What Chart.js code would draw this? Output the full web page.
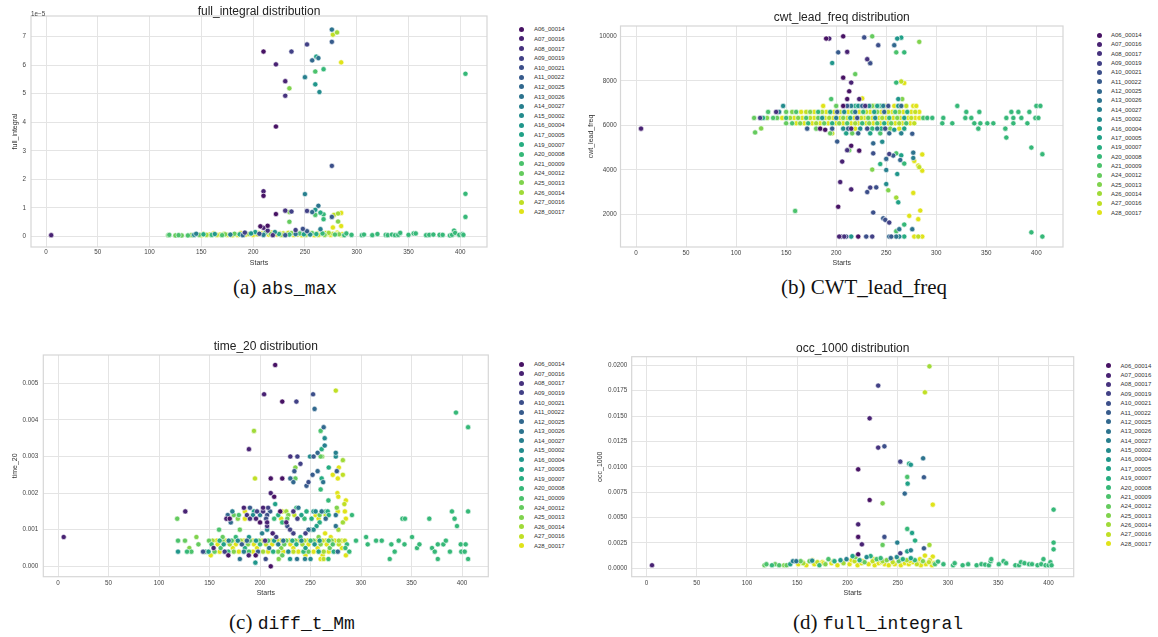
<!DOCTYPE html>
<html><head><meta charset="utf-8">
<script src="https://cdn.jsdelivr.net/npm/chart.js@4/dist/chart.umd.min.js"></script>
<style>
body{margin:0;width:1158px;height:637px;position:relative;background:#fff;overflow:hidden;font-family:"Liberation Sans",Arial,sans-serif}
canvas{position:absolute}
.lg{position:absolute;font-size:6px;color:#333;white-space:nowrap;line-height:6px}
.dot{position:absolute;width:5px;height:5px;border-radius:50%}
.cap{position:absolute;transform:translate(-50%,-50%);white-space:nowrap;font-family:"Liberation Serif","DejaVu Serif",serif;font-size:21px;color:#111}
.cap .tt{font-family:"Liberation Mono","DejaVu Sans Mono",monospace;font-size:18px}
</style></head><body>
<canvas id="cA" width="500" height="272" style="left:0;top:0"></canvas>
<canvas id="cB" width="500" height="272" style="left:580px;top:0"></canvas>
<canvas id="cC" width="500" height="272" style="left:0;top:335px"></canvas>
<canvas id="cD" width="520" height="272" style="left:580px;top:335px"></canvas>
<div class="cap" style="left:285px;top:287px">(a) <span class="tt">abs_max</span></div>
<div class="cap" style="left:864px;top:287px">(b) CWT_lead_freq</div>
<div class="cap" style="left:292px;top:622px">(c) <span class="tt">diff_t_Mm</span></div>
<div class="cap" style="left:878px;top:622px">(d) <span class="tt">full_integral</span></div>
<script>
const groups = ['A06_00014','A07_00016','A08_00017','A09_00019','A10_00021','A11_00022','A12_00025','A13_00026','A14_00027','A15_00002','A16_00004','A17_00005','A19_00007','A20_00008','A21_00009','A24_00012','A25_00013','A26_00014','A27_00016','A28_00017'];
const palette = ['#471264','#482273','#46327e','#424186','#3c4f8a','#375b8c','#31688e','#2c738e','#277f8e','#238b8d','#20968b','#20a187','#27ad81','#36b878','#4bc26c','#65cb5e','#80d34d','#a0da38','#c0df25','#e0e319'];

const xTicks = [0,50,100,150,200,250,300,350,400];
const xTickLabels = ['0','50','100','150','200','250','300','350','400'];
const fiTicks = [0,1,2,3,4,5,6,7];            // units of 1e-5
const fiTickLabels = ['0','1','2','3','4','5','6','7'];
const cwtTicks = [2000,4000,6000,8000,10000];
const cwtTickLabels = ['2000','4000','6000','8000','10000'];
const t20Ticks = [0,0.001,0.002,0.003,0.004,0.005];
const t20TickLabels = ['0.000','0.001','0.002','0.003','0.004','0.005'];
const occTicks = [0,0.0025,0.005,0.0075,0.01,0.0125,0.015,0.0175,0.02];
const occTickLabels = ['0.0000','0.0025','0.0050','0.0075','0.0100','0.0125','0.0150','0.0175','0.0200'];

// [Starts, full_integral (x1e-5), group index]
const fullIntegralPts = [
 [5,0.04,1],
 [210,6.48,0],[222,6.03,1],[231,5.44,1],[231,4.93,2],[237,6.48,3],[252,6.73,3],[222,3.85,0],
 [276,7.25,7],[276,6.82,5],[277,7.07,18],[281,7.15,17],[285,6.10,19],[250,5.58,8],[257,6.17,6],
 [261,6.30,11],[263,6.25,7],[260,5.78,14],[268,5.86,13],[260,5.33,10],[264,5.06,9],[235,5.19,16],
 [405,5.70,13],[276,2.47,4],[210,1.58,1],[210,1.42,0],[250,1.48,8],[405,1.49,13],[405,0.68,13],
 [222,0.78,0],[231,0.90,2],[237,0.87,3],[235,0.85,16],[252,0.89,3],[257,0.85,6],[260,0.93,10],
 [263,1.07,7],[265,0.83,12],[268,0.77,13],[260,0.75,14],[268,0.60,13],[276,0.68,5],[278,0.75,18],
 [282,0.80,17],[285,0.82,19],[282,0.52,16],[235,0.51,15],[277,0.31,19],[285,0.36,19],
 [207,0.35,0],[210,0.30,1],[214,0.37,0],[214,0.20,2],[241,0.22,3],[248,0.26,4],[265,0.25,8],[252,0.18,5],
 [118,0.04,15],[119,0.05,14],[125,0.03,15],[128,0.04,14],[131,0.03,15],[137,0.03,14],[140,0.04,16],[143,0.05,9],[145,0.09,8],[148,0.05,15],
 [150,0.04,19],[152,0.07,12],[155,0.05,17],[158,0.06,19],[160,0.05,13],[163,0.08,10],[165,0.05,18],[168,0.06,19],[170,0.04,14],[173,0.07,16],
 [175,0.05,19],[178,0.06,8],[180,0.04,18],[182,0.09,15],[185,0.05,19],[187,0.07,12],[190,0.04,6],[192,0.13,3],[193,0.06,19],[196,0.08,17],
 [198,0.10,10],[200,0.05,19],[202,0.15,11],[204,0.07,18],[206,0.09,4],[208,0.10,19],[210,0.05,8],[212,0.13,14],[215,0.06,19],[217,0.08,16],
 [219,0.04,2],[221,0.15,9],[223,0.06,19],[225,0.08,12],[227,0.05,17],[229,0.10,18],[231,0.04,5],[233,0.09,19],[235,0.06,13],[237,0.11,16],
 [239,0.05,19],[241,0.08,7],[243,0.06,18],[245,0.10,14],[247,0.04,19],[249,0.07,11],[251,0.05,17],[253,0.09,19],[255,0.06,9],[257,0.11,15],
 [259,0.04,19],[261,0.08,12],[263,0.05,18],[265,0.07,19],[267,0.10,13],[269,0.05,16],[271,0.08,19],[273,0.12,17],[275,0.05,19],[277,0.09,18],
 [279,0.06,14],[281,0.13,19],[283,0.07,16],[285,0.05,19],[288,0.04,13],[290,0.10,13],
 [152,0.09,19],[162,0.10,19],[172,0.09,18],[188,0.11,19],[205,0.12,19],[218,0.13,19],[226,0.10,19],[234,0.12,18],[244,0.11,19],[254,0.12,19],
 [262,0.10,19],[270,0.11,18],[280,0.09,19],[286,0.08,19],
 [295,0.05,13],[305,0.04,13],[307,0.06,13],[315,0.04,13],[320,0.08,13],[328,0.05,13],[330,0.04,13],[334,0.06,13],[337,0.04,13],[340,0.05,13],
 [342,0.12,13],[350,0.05,13],[355,0.10,13],[357,0.10,13],[367,0.04,13],[370,0.05,13],[374,0.06,13],[380,0.05,13],[383,0.05,13],[390,0.03,13],
 [392,0.05,13],[394,0.20,13],[395,0.12,13],[399,0.05,13],[402,0.08,13],[403,0.05,13]
];

// [Starts, cwt_lead_freq, group index]
const cwtLeadFreqPts = [
 [5,5850,1],
 [190,9900,0],[193,9900,1],[207,10000,0],[228,9950,4],[236,10000,15],[242,9600,4],[258,9600,6],[261,9900,10],[265,9940,11],[283,9750,16],
 [202,9280,5],[211,9300,1],[196,8800,10],[231,8970,2],[234,8790,4],[234,8800,15],[260,9280,14],[268,9280,13],
 [219,8300,15],[207,8140,0],[215,7920,1],[260,7920,13],[265,7970,18],[268,7900,19],[213,7530,0],
 [211,7180,0],[223,7180,1],[226,7210,19],[195,7180,14],[266,7180,16],[262,7180,10],
 [119,5680,15],[125,5860,16],
 [201,5270,5],[215,5080,0],[213,4880,15],[211,4880,2],[223,4860,0],[206,4370,1],
 [237,4740,4],[253,4710,3],[257,4640,5],[260,4740,14],[265,4650,11],[264,4440,6],[268,4280,13],[277,4770,7],[277,4530,8],[278,4400,19],
 [282,4190,19],[283,4120,18],[286,3960,19],[286,4690,19],
 [250,4490,6],[250,3990,8],[244,4260,12],[246,5260,9],[237,5190,6],[261,3810,10],[236,4010,16],
 [204,3450,1],[215,3120,1],[231,3000,4],[234,3200,3],[240,3210,4],[250,3360,9],[252,3080,16],[277,2960,19],
 [202,2340,0],[237,2080,4],[247,1820,5],[249,1750,4],[253,1630,3],[260,2750,17],[262,2540,11],[268,1540,13],[273,1930,19],[282,1780,19],
 [284,2170,19],[263,1330,7],[276,1330,7],[260,1240,14],
 [159,2150,14],[395,1190,13],[406,1000,13],[395,5000,13],[406,4700,13],[370,5450,13],
 [203,1000,1],[205,1000,3],[208,1000,2],[210,1000,4],[215,1000,10],[222,1000,0],[230,1000,4],[236,1000,3],[253,1000,6],[255,1000,5],
 [260,1000,7],[263,1000,8],[268,1000,12],[278,1000,19],[282,1000,18],[286,1000,19],
 [147,6870,9],[187,6870,19],[200,6870,15],[207,6870,0],[211,6870,5],[215,6870,8],[219,6870,12],[222,6870,10],[226,6870,6],[229,6870,2],
 [233,6870,9],[236,6870,16],[238,6870,19],[241,6870,11],[244,6870,13],[247,6870,8],[249,6870,18],[252,6870,4],[258,6870,19],[262,6870,10],
 [265,6870,6],[270,6870,18],[277,6870,19],[280,6870,19],[321,6870,13],[400,6870,13],[404,6870,13],
 [132,6600,14],[140,6600,2],[143,6600,8],[150,6600,15],[156,6600,16],[160,6600,14],[165,6600,19],[170,6600,18],[174,6600,16],[178,6600,19],
 [182,6600,13],[186,6600,17],[190,6600,19],[194,6600,12],[198,6600,19],[201,6600,5],[204,6600,18],[208,6600,9],[212,6600,19],[216,6600,15],
 [219,6600,7],[223,6600,19],[227,6600,13],[230,6600,18],[234,6600,19],[238,6600,11],[241,6600,16],[245,6600,19],[248,6600,6],[252,6600,18],
 [256,6600,19],[259,6600,14],[263,6600,17],[267,6600,19],[271,6600,12],[275,6600,19],[279,6600,18],[283,6600,19],
 [330,6600,13],[343,6600,13],[375,6600,13],[382,6600,13],[393,6600,13],
 [118,6330,15],[124,6330,3],[127,6330,12],[131,6330,16],[137,6330,14],[141,6330,15],[146,6330,19],[150,6330,13],[154,6330,17],[158,6330,19],
 [162,6330,16],[166,6330,19],[170,6330,14],[174,6330,18],[178,6330,19],[182,6330,15],[186,6330,10],[189,6330,19],[193,6330,17],[197,6330,19],
 [200,6330,8],[204,6330,19],[207,6330,16],[211,6330,19],[214,6330,12],[218,6330,19],[221,6330,4],[225,6330,18],[228,6330,19],[232,6330,15],
 [236,6330,19],[239,6330,9],[243,6330,19],[246,6330,17],[250,6330,19],[253,6330,13],[257,6330,19],[261,6330,16],[264,6330,19],[268,6330,11],
 [272,6330,19],[275,6330,18],[279,6330,19],[283,6330,19],[287,6330,14],[291,6330,13],[296,6330,13],[307,6330,13],[329,6330,13],[335,6330,13],
 [370,6330,13],[377,6330,13],[385,6330,13],[399,6330,13],[402,6330,13],
 [150,6090,15],[156,6090,14],[160,6090,19],[164,6090,16],[168,6090,19],[172,6090,13],[176,6090,19],[180,6090,17],[184,6090,19],[188,6090,15],
 [192,6090,19],[196,6090,12],[200,6090,19],[203,6090,16],[207,6090,19],[211,6090,14],[215,6090,19],[219,6090,17],[222,6090,19],[226,6090,13],
 [230,6090,19],[233,6090,16],[237,6090,19],[241,6090,14],[244,6090,19],[248,6090,12],[252,6090,19],[255,6090,15],[259,6090,19],[263,6090,17],
 [266,6090,19],[270,6090,14],[274,6090,19],[278,6090,18],[306,6090,13],[316,6090,13],[338,6090,13],[344,6090,13],[351,6090,13],[357,6090,13],
 [377,6090,13],[391,6090,13],
 [171,5850,5],[180,5850,15],[184,5850,0],[189,5800,0],[196,5850,5],[207,5850,9],[212,5850,6],[215,5850,1],[219,5850,19],[224,5850,9],
 [231,5850,4],[236,5850,13],[241,5850,7],[245,5850,12],[249,5850,4],[254,5850,16],[258,5800,10],[263,5850,19],[268,5850,11],[342,5850,13],[369,5850,13],
 [194,5640,15],[196,5640,18],[210,5640,11],[216,5640,15],[222,5640,5],[234,5640,11],[244,5640,14],[253,5640,6],[265,5640,8],[276,5620,5]
];

// [Starts, time_20, group index]
const time20Pts = [
 [5.6,0.0008,1],
 [215,0.0055,0],[204,0.0047,1],[252.5,0.0047,4],[222,0.0045,0],[236,0.0045,3],[254,0.0043,6],[275,0.0048,18],
 [394,0.0042,13],[406,0.0038,13],[263,0.0038,6],[194,0.0037,17],[260,0.0037,14],[264,0.0035,9],[264,0.0033,8],
 [189,0.0032,1],[261,0.0032,12],[257,0.0031,6],[275,0.0031,8],[275,0.0030,9],[230,0.0030,2],[237,0.0030,3],
 [249.5,0.0030,9],[253,0.0030,5],[260,0.0030,15],[261.5,0.0030,16],[282,0.0029,17],[240,0.0028,3],
 [234,0.0026,5],[235,0.0027,16],[257,0.0026,6],[268,0.0027,12],[278,0.0027,19],[276,0.0026,5],
 [210.6,0.0024,0],[222,0.0024,0],[195,0.0024,18],[230,0.0024,6],[235,0.0024,15],[261,0.0024,12],[277,0.0024,19],[272,0.0025,19],[282,0.0025,18],
 [233,0.0023,6],[248,0.0023,4],[262.5,0.0023,7],[252,0.0025,5],[246,0.0022,5],[260,0.0021,13],
 [210.6,0.0020,1],[276.6,0.0020,19],[277.5,0.0019,19],[214,0.0019,0],[267.7,0.0018,13],[285,0.0018,19],[283.5,0.0017,18],[215,0.0017,11],
 [126,0.0015,1],[118,0.0013,15],[291,0.0014,13],[390,0.0015,13],[392.6,0.0013,13],[395,0.0011,13],[406,0.0015,13],[367.6,0.0013,13],[341,0.0013,13],[343.5,0.0013,13],
 [184,0.0016,1],[190,0.0016,5],[203,0.0016,1],[208,0.0016,3],[236,0.0016,13],[238,0.0016,7],[276,0.0016,16],
 [172.6,0.0015,8],[185,0.0015,19],[194,0.0015,11],[197,0.0015,3],[203,0.0015,2],[210,0.0015,5],[220,0.0015,0],[222,0.0015,19],[226,0.0015,17],
 [233,0.0015,2],[246,0.0015,12],[253,0.0015,10],[255,0.0015,9],[261,0.0015,7],[265,0.0015,13],[267,0.0015,12],[277,0.0015,19],[284,0.0015,19],
 [168,0.0014,6],[174,0.0014,15],[179,0.0014,14],[187,0.0014,2],[193,0.0014,9],[200,0.0014,8],[207,0.0014,4],[218,0.0014,12],[228,0.0014,16],
 [234,0.0014,18],[241,0.0014,11],[255,0.0014,19],[259,0.0014,15],[265,0.0014,18],[268,0.0014,12],[275,0.0014,7],
 [166.7,0.0013,1],[170,0.0013,0],[178,0.0013,16],[185,0.0013,19],[190,0.0013,2],[196,0.0013,1],[206,0.0013,4],[214,0.0013,13],[221,0.0013,19],
 [227,0.0013,15],[237,0.0013,3],[244,0.0013,13],[251,0.0013,12],[258,0.0013,19],[265,0.0013,6],[285,0.0013,19],
 [171,0.0012,6],[200,0.0012,0],[207,0.0012,1],[222,0.0012,13],[226,0.0012,1],[259,0.0012,12],[282,0.0012,17],
 [202,0.0009,8],[207,0.0011,2],[207,0.0010,9],[212.5,0.0009,1],[227,0.0011,4],[233,0.0009,3],[233,0.0009,16],[245,0.0009,3],[248,0.0010,6],
 [250,0.0010,11],[253,0.0010,9],[256,0.0011,11],[264.4,0.0009,19],[275,0.0011,7],[277.6,0.0010,17],[229.7,0.0010,3],[159.4,0.0010,14],[180,0.0010,15],[137,0.0008,16],
 [163,0.0008,15],[176,0.0008,13],[189,0.0008,10],[216,0.0008,3],[240,0.0008,12],[258,0.0008,16],[270,0.0008,19],
 [118.8,0.0007,14],[125.7,0.0007,15],[149.5,0.0007,15],[153,0.0007,17],[157,0.0007,19],[160,0.0007,12],[163,0.0007,16],[166,0.0007,19],[169,0.0007,8],
 [172,0.0007,14],[175,0.0007,19],[178,0.0007,9],[181,0.0007,17],[184,0.0007,19],[187,0.0007,6],[190,0.0007,15],[193,0.0007,19],[196,0.0007,10],
 [199,0.0007,16],[202,0.0007,19],[205,0.0007,2],[208,0.0007,14],[211,0.0007,19],[214,0.0007,11],[217,0.0007,18],[220,0.0007,19],[223,0.0007,7],
 [226,0.0007,15],[229,0.0007,19],[232,0.0007,12],[235,0.0007,16],[238,0.0007,19],[241,0.0007,9],[244,0.0007,17],[247,0.0007,19],[250,0.0007,13],
 [253,0.0007,15],[256,0.0007,19],[259,0.0007,10],[262,0.0007,18],[265,0.0007,19],[268,0.0007,14],[271,0.0007,16],[274,0.0007,19],[278,0.0007,17],
 [281,0.0007,19],[284,0.0007,18],[295,0.0007,13],
 [139,0.0006,15],[152,0.0006,13],[158,0.0006,19],[164,0.0006,11],[170,0.0006,17],[176,0.0006,19],[182,0.0006,5],[188,0.0006,16],[194,0.0006,19],
 [200,0.0006,13],[206,0.0006,18],[212,0.0006,19],[218,0.0006,8],[224,0.0006,15],[230,0.0006,19],[236,0.0006,12],[242,0.0006,17],[248,0.0006,19],
 [254,0.0006,10],[260,0.0006,16],[266,0.0006,19],[272,0.0006,14],[278,0.0006,18],[286,0.0006,13],
 [130,0.0005,16],[154,0.0005,1],[161,0.0005,14],[173,0.0005,19],[185,0.0005,12],[197,0.0005,19],[209,0.0005,7],[221,0.0005,16],[233,0.0005,19],
 [245,0.0005,11],[257,0.0005,19],[269,0.0005,15],[281,0.0005,19],[284.5,0.0005,13],
 [118.8,0.0004,10],[127.7,0.0004,13],[132,0.0004,14],[143.6,0.0004,4],[146,0.0004,13],[149,0.0004,11],[155,0.0004,15],[160,0.0004,19],[165,0.0004,3],
 [168.6,0.0004,13],[174,0.0004,16],[179,0.0004,19],[184,0.0004,8],[189,0.0004,14],[193,0.0004,19],[198,0.0004,5],[203,0.0004,17],[208,0.0004,19],
 [213,0.0004,12],[218,0.0004,16],[223,0.0004,19],[228,0.0004,9],[233,0.0004,18],[238,0.0004,19],[243,0.0004,13],[248,0.0004,15],[253,0.0004,19],
 [258,0.0004,11],[263,0.0004,17],[268,0.0004,19],[273,0.0004,12],[277,0.0004,6],[288.4,0.0004,13],
 [151.2,0.0003,19],[168.6,0.0003,0],[188.8,0.0003,1],[195.7,0.0003,0],[222,0.0003,15],[245,0.0003,19],[262,0.0003,19],[285,0.0003,19],
 [180,0.0002,7],[205.6,0.0002,4],[218.5,0.0002,16],[229.7,0.0002,10],[236.6,0.0002,7],[244.5,0.0002,8],[250,0.0002,9],[260,0.0002,19],[263,0.0002,18],[267.7,0.0002,13],
 [195.4,0.0001,10],[210.6,0.0000,0],
 [305,0.0008,13],[306.6,0.0006,13],[314.9,0.0007,13],[320.5,0.0007,13],[328.4,0.0002,13],[330,0.0006,13],[333.3,0.0004,13],[337.3,0.0007,13],
 [343,0.0006,13],[350.5,0.0008,13],[355.4,0.0005,13],[357.8,0.0006,13],[370.3,0.0005,13],[373,0.0004,13],[376,0.0002,13],[376,0.0006,13],
 [381.5,0.0006,13],[384,0.0007,13],[388,0.0004,13],[398.7,0.0006,13],[399.3,0.0004,13],[403.6,0.0006,13],[402.6,0.0004,13],[406,0.0002,13]
];

// [Starts, occ_1000, group index]
const occ1000Pts = [
 [5.5,0.0003,1],
 [281.5,0.0199,17],[230.5,0.0180,3],[277,0.01734,18],[222,0.01478,1],[230.5,0.01189,2],[236.7,0.01202,4],[275.2,0.01084,7],[252.5,0.01051,3],
 [261.3,0.01031,12],[263,0.0102,10],[210.6,0.00975,0],[276,0.00897,5],[259.4,0.0090,14],[259.8,0.00834,11],[256.9,0.00736,6],[222,0.00673,0],
 [234.9,0.0064,16],[284.8,0.00627,19],[405,0.00578,13],[210.6,0.00433,1],[259.4,0.00388,13],[264.2,0.00348,11],[210.6,0.00309,0],[236.7,0.00309,4],
 [267.2,0.00273,12],[405,0.00253,13],[249.5,0.00253,8],[214.3,0.00236,1],[234.9,0.0023,15],[281.5,0.0023,17],[276,0.00197,5],[405,0.00187,13],
 [259.4,0.00167,11],[263,0.00177,8],[252.5,0.00148,3],[210.6,0.00138,0],[277,0.00125,19],[284.8,0.00115,19],
 [117.4,0.0003,15],[119.3,0.0004,14],[124.8,0.0003,13],[128,0.0004,15],[132,0.0003,14],[136.9,0.0003,16],[139.4,0.0003,15],[143,0.0004,11],
 [145.7,0.0007,8],[149,0.0007,7],[151,0.0004,19],[153.4,0.0007,15],[156,0.0005,17],[159,0.0003,19],[162.2,0.0007,15],[164.8,0.00075,9],
 [167,0.0004,19],[170,0.0006,18],[172,0.0003,13],[175,0.0006,19],[178,0.0004,16],[181,0.0009,14],[184,0.0005,19],[187,0.0007,12],
 [190,0.0003,19],[193,0.0008,10],[196,0.0005,17],[199,0.0009,8],[202,0.0004,19],[205,0.0012,11],[207,0.0007,18],[208,0.0011,16],
 [210,0.0003,19],[212,0.0008,12],[214,0.0005,19],[217,0.0006,15],[219,0.0011,9],[221,0.0004,19],[223,0.0012,12],[225,0.0007,18],
 [227,0.0003,19],[229,0.0009,14],[231,0.0005,19],[233,0.0010,13],[235,0.0007,17],[237,0.0004,19],[239,0.0008,16],[241,0.0003,19],
 [243,0.0010,7],[245,0.0006,18],[247,0.0004,19],[249,0.0011,9],[251,0.0007,15],[253,0.0003,19],[255,0.0009,12],[257,0.0005,19],
 [259,0.0008,17],[261,0.0004,19],[263,0.0010,11],[265,0.0006,19],[267,0.0008,13],[269,0.0004,18],[271,0.0006,19],[273,0.0003,19],
 [275,0.0007,16],[278,0.0004,19],[281,0.0006,18],[284,0.0003,19],[287,0.0004,14],
 [155,0.0006,19],[165,0.0008,19],[176,0.0005,19],[186,0.0007,18],[195,0.0006,19],[204,0.0008,19],[215,0.0007,19],[226,0.0009,19],
 [234,0.0006,19],[244,0.0009,19],[252,0.0008,19],[262,0.0007,19],[272,0.0009,19],[282,0.0008,19],[286,0.0005,19],
 [290,0.00066,13],[295.4,0.0004,13],[305,0.0003,13],[306.6,0.0005,13],[314.5,0.0003,13],[320,0.0004,13],[328.4,0.0003,13],[333.2,0.0004,13],
 [336.9,0.00036,13],[340.6,0.0003,13],[342.4,0.0007,13],[343,0.0009,13],[350.5,0.0004,13],[355.2,0.0007,13],[357.8,0.0005,13],[367,0.0003,13],
 [370.6,0.0003,13],[372.5,0.0006,13],[376,0.0005,13],[380.6,0.0004,13],[383.5,0.0004,13],[389,0.0003,13],[392.7,0.0004,13],[394.9,0.0009,13],
 [397,0.0003,13],[400,0.0003,13],[401.8,0.0006,13],[403,0.0003,13]
];

const FONT = "'Liberation Sans', Arial, sans-serif";

function makeChart(id, pts, c) {
  const datasets = groups.map((g, i) => ({
    label: g,
    data: pts.filter(p => p[2] === i).map(p => ({x: p[0], y: p[1]})),
    backgroundColor: palette[i],
    borderColor: '#ffffff',
    borderWidth: 0.6,
    pointRadius: 2.6,
    pointHoverRadius: 2.6
  }));
  const panel = {
    id: 'panel',
    beforeDatasetsDraw(chart) {
      const {ctx, chartArea: a} = chart;
      ctx.save();
      ctx.strokeStyle = '#d6d6d6';
      ctx.lineWidth = 1.2;
      ctx.strokeRect(a.left, a.top, a.right - a.left, a.bottom - a.top);
      ctx.restore();
    },
    afterDraw(chart) {
      const {ctx, chartArea: a} = chart;
      ctx.save();
      ctx.fillStyle = '#222';
      ctx.font = '12px ' + FONT;
      ctx.textAlign = 'center';
      ctx.textBaseline = 'middle';
      ctx.fillText(c.title, (a.left + a.right) / 2, c.titleY);
      if (c.offsetText) {
        ctx.font = '6.3px ' + FONT;
        ctx.fillStyle = '#444';
        ctx.textAlign = 'left';
        ctx.textBaseline = 'alphabetic';
        ctx.fillText(c.offsetText, a.left, a.top);
      }
      ctx.restore();
    }
  };
  return new Chart(document.getElementById(id), {
    type: 'scatter',
    data: {datasets},
    options: {
      responsive: false,
      animation: false,
      events: [],
      layout: {padding: {left: 0, top: c.top, right: c.right, bottom: 0}},
      plugins: {legend: {display: false}, tooltip: {enabled: false}, title: {display: false}},
      scales: {
        x: {
          type: 'linear', min: c.xmin, max: c.xmax,
          afterBuildTicks: s => { s.ticks = xTicks.map(v => ({value: v})); },
          afterFit: s => { s.height = c.xh; },
          grid: {color: '#e4e4e4', lineWidth: 1, drawTicks: false},
          border: {display: false},
          ticks: {font: {size: 6.3, family: FONT}, color: '#444', padding: c.xpad, maxRotation: 0, autoSkip: false,
                  callback: (v, i) => xTickLabels[i]},
          title: {display: true, text: 'Starts', font: {size: 7, family: FONT}, color: '#333', padding: {top: 0, bottom: c.xtpad}}
        },
        y: {
          type: 'linear', min: c.ymin, max: c.ymax,
          afterBuildTicks: s => { s.ticks = c.yTicks.map(v => ({value: v})); },
          afterFit: s => { s.width = c.yw; },
          grid: {color: '#e4e4e4', lineWidth: 1, drawTicks: false},
          border: {display: false},
          ticks: {font: {size: 6.3, family: FONT}, color: '#444', padding: c.ypad, autoSkip: false,
                  callback: (v, i) => c.yLabels[i]},
          title: {display: true, text: c.ylabel, font: {size: 7, family: FONT}, color: '#333', padding: {top: c.ytpad, bottom: 0}}
        }
      }
    },
    plugins: [panel]
  });
}

makeChart('cA', fullIntegralPts, {title: 'full_integral distribution', titleY: 12, offsetText: '1e\u22125',
  top: 16, right: 13, yw: 31, xh: 25, ytpad: 10.8, xtpad: 4.8, xpad: 1.5, ypad: 5,
  xmin: -14.5, xmax: 425.8, ymin: -0.375, ymax: 7.726, yTicks: fiTicks, yLabels: fiTickLabels, ylabel: 'full_integral'});
makeChart('cB', cwtLeadFreqPts, {title: 'cwt_lead_freq distribution', titleY: 18,
  top: 26, right: 17, yw: 40.5, xh: 25, ytpad: 6.8, xtpad: 4.8, xpad: 2.8, ypad: 3.7,
  xmin: -15.5, xmax: 426.6, ymin: 530, ymax: 10463, yTicks: cwtTicks, yLabels: cwtTickLabels, ylabel: 'cwt_lead_freq'});
makeChart('cC', time20Pts, {title: 'time_20 distribution', titleY: 11.7,
  top: 20, right: 11.7, yw: 43.3, xh: 30.3, ytpad: 10.8, xtpad: 10.1, xpad: 3.1, ypad: 5,
  xmin: -14.6, xmax: 426, ymin: -0.000284, ymax: 0.005773, yTicks: t20Ticks, yLabels: t20TickLabels, ylabel: 'time_20'});
makeChart('cD', occ1000Pts, {title: 'occ_1000 distribution', titleY: 14,
  top: 21.7, right: 26.3, yw: 51.7, xh: 30.3, ytpad: 16.1, xtpad: 10.1, xpad: 3.1, ypad: 4.5,
  xmin: -14.7, xmax: 425, ymin: -0.00083, ymax: 0.02085, yTicks: occTicks, yLabels: occTickLabels, ylabel: 'occ_1000'});

function legend(mx, tx, y0, step) {
  groups.forEach((g, i) => {
    const y = y0 + i * step;
    const d = document.createElement('div');
    d.className = 'dot';
    d.style.left = (mx - 2.5) + 'px';
    d.style.top = (y - 2.5) + 'px';
    d.style.background = palette[i];
    document.body.appendChild(d);
    const t = document.createElement('div');
    t.className = 'lg';
    t.style.left = tx + 'px';
    t.style.top = (y - 3) + 'px';
    t.textContent = g;
    document.body.appendChild(t);
  });
}
legend(521.7, 534, 29.3, 9.6);
legend(1099, 1111, 35, 9.35);
legend(521.7, 534, 364.3, 9.55);
legend(1108.8, 1120.6, 365.7, 9.37);
</script>
</body></html>
